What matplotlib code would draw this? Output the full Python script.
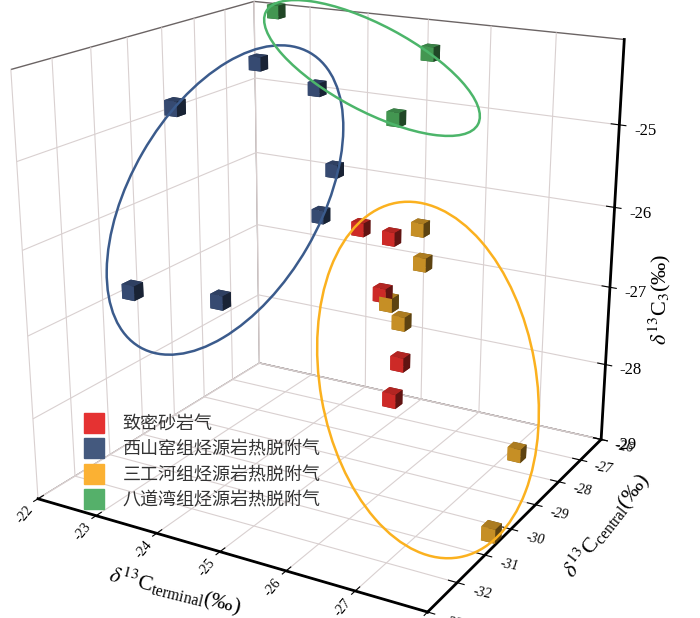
import numpy as np
import matplotlib
matplotlib.use('Agg')
import matplotlib.pyplot as plt
from matplotlib.patches import Ellipse
from matplotlib.lines import Line2D
from matplotlib.ticker import FuncFormatter

plt.rcParams['font.family'] = ['Liberation Serif', 'DejaVu Serif']
plt.rcParams['mathtext.fontset'] = 'stix'

# 数据 (δ13C terminal, central, C3)
tight_terminal = [-24.8, -25.3, -25.6, -26.1, -26.2]
tight_central = [-28.0, -28.0, -29.0, -29.5, -30.0]
tight_c3 = [-26.3, -26.35, -26.8, -27.45, -27.75]

xsy_terminal = [-23.1, -23.35, -23.6, -23.9, -23.9, -23.15, -24.0]
xsy_central = [-28.0, -31.0, -27.0, -27.0, -27.5, -32.0, -31.0]
xsy_c3 = [-24.45, -24.55, -24.85, -25.85, -26.35, -26.5, -26.7]

sgh_terminal = [-25.55, -25.8, -25.7, -25.9, -27.35, -27.9]
sgh_central = [-27.5, -28.0, -29.0, -29.0, -28.0, -30.5]
sgh_c3 = [-26.3, -26.6, -26.9, -27.1, -28.75, -28.9]

bdw_terminal = [-22.55, -25.45, -25.35]
bdw_central = [-26.3, -27.0, -28.0]
bdw_c3 = [-24.05, -24.25, -24.9]

labels = ['致密砂岩气', '西山窑组烃源岩热脱附气', '三工河组烃源岩热脱附气', '八道湾组烃源岩热脱附气']
cube_colors = ['#e8302c', '#3d5480', '#e0a22a', '#4caa5c']
legend_colors = ['#e53232', '#44597e', '#fbb133', '#55b06a']
ring_colors = ['#3b5b8c', '#4cb56a', '#fbb11f']

groups = [
    (tight_terminal, tight_central, tight_c3),
    (xsy_terminal, xsy_central, xsy_c3),
    (sgh_terminal, sgh_central, sgh_c3),
    (bdw_terminal, bdw_central, bdw_c3),
]

fig = plt.figure(figsize=(7, 6.18), dpi=100)
ax = fig.add_axes([-0.04, 0.05, 1.0, 1.0], projection='3d')
ax.set_proj_type('persp', focal_length=0.5)
ax.view_init(elev=19, azim=-60)
ax.set_box_aspect((1, 0.95, 1.0), zoom=1.17)

# 立方体
xs, ys, zs, cs = [], [], [], []
for (t, c, z), col in zip(groups, cube_colors):
    xs += [-v for v in t]
    ys += list(c)
    zs += list(z)
    cs += [col] * len(t)
xs, ys, zs = np.array(xs), np.array(ys), np.array(zs)
dx, dy, dz = 0.2, 0.25, 0.17
ax.bar3d(xs - dx / 2, ys - dy / 2, zs - dz / 2, dx, dy, dz, color=cs, shade=True)

ax.set_xlim(22, 28)
ax.set_ylim(-33, -26)
ax.set_zlim(-29, -24)
ax.set_xticks(range(22, 29))
ax.set_yticks(range(-33, -25))
ax.set_zticks(range(-29, -24))
ax.xaxis.set_major_formatter(FuncFormatter(lambda v, p: '-%d' % v))
ax.yaxis.set_major_formatter(FuncFormatter(lambda v, p: '%d' % v))
ax.zaxis.set_major_formatter(FuncFormatter(lambda v, p: '%d' % v))

for axis in (ax.xaxis, ax.yaxis, ax.zaxis):
    axis.set_pane_color((1, 1, 1, 1))
    axis.pane.set_edgecolor('#6b6464')
    axis.pane.set_linewidth(1.0)
    axis._axinfo['grid'].update(color='#d9d0d0', linewidth=0.8)
    axis.line.set_color('black')
    axis.line.set_linewidth(2)
    axis._axinfo['tick']['inward_factor'] = 0.2
    axis._axinfo['tick']['outward_factor'] = 0.25

ax.tick_params(axis='x', labelsize=10, labelrotation=50, pad=-6)
ax.tick_params(axis='y', labelsize=10, labelrotation=-10, pad=0)
ax.tick_params(axis='z', labelsize=12, pad=3)
for t in ax.get_xticklabels():
    t.set_ha('right')
for t in ax.get_yticklabels():
    t.set_fontstyle('italic')
    t.set_ha('left')
    t.set_va('bottom')

# 轴标题
fig.text(0.25, 0.045, r'$\delta^{13}$C$_{\mathregular{terminal}}$(‰)', fontsize=16,
         rotation=-14, ha='center', va='center')
fig.text(0.866, 0.15, r'$\delta^{13}$C$_{\mathregular{central}}$(‰)', fontsize=16,
         rotation=52, ha='center', va='center')
fig.text(0.943, 0.515, r'$\delta^{13}$C$_{3}$(‰)', fontsize=16,
         rotation=90, ha='center', va='center')

# 圈定范围 (二维叠加)
ov = fig.add_axes([0, 0, 1, 1], zorder=5)
ov.set_xlim(0, 700)
ov.set_ylim(618, 0)
ov.axis('off')
ov.patch.set_alpha(0)
ov.add_patch(Ellipse((225, 200), 340, 190, angle=-60, fill=False, ec=ring_colors[0], lw=1.8))
ov.add_patch(Ellipse((372, 68), 240, 86, angle=28, fill=False, ec=ring_colors[1], lw=1.8))
ov.add_patch(Ellipse((428, 380), 360, 216, angle=80, fill=False, ec=ring_colors[2], lw=1.8))

handles = [Line2D([], [], ls='', marker='s', ms=15, mfc=c, mec=c) for c in legend_colors]
leg = ov.legend(handles, labels, loc='upper left', bbox_to_anchor=(0.085, 0.355), frameon=False,
                prop={'family': ['Noto Sans CJK SC'], 'size': 13}, handletextpad=0.6, labelspacing=0.42,
                labelcolor='#333333')

fig.savefig('out.png', dpi=100)
